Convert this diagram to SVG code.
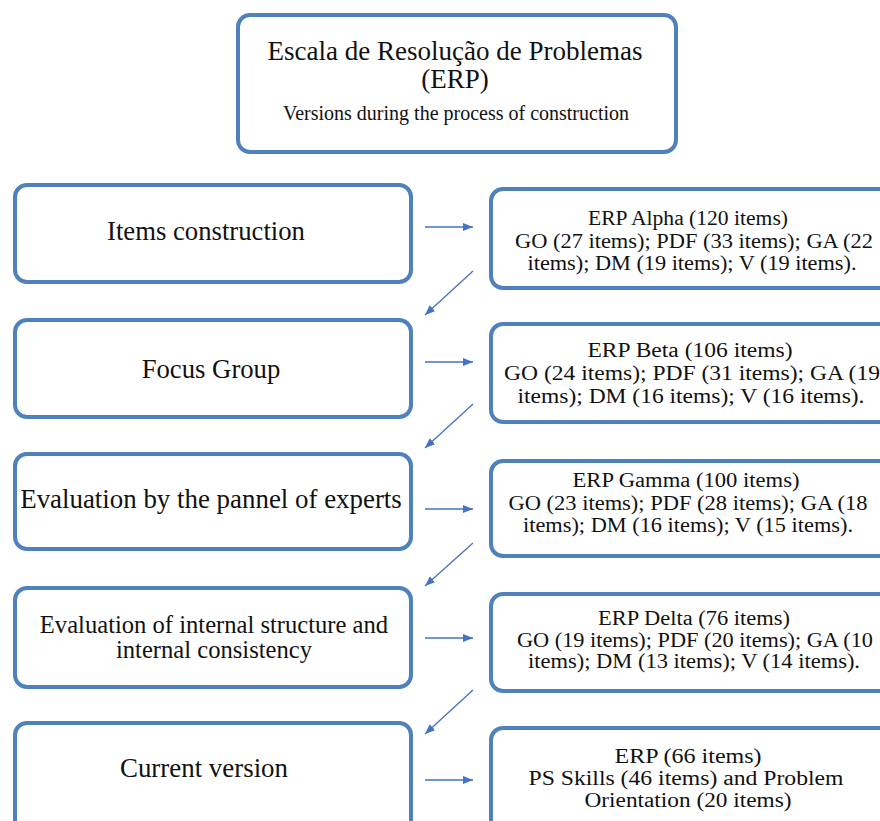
<svg xmlns="http://www.w3.org/2000/svg" width="880" height="821" viewBox="0 0 880 821">
<defs>
<marker id="ah" viewBox="0 0 10 8" refX="10" refY="4" markerWidth="10" markerHeight="8" markerUnits="userSpaceOnUse" orient="auto">
<path d="M0,0 L10,4 L0,8 z" fill="#4472c4"/>
</marker>
</defs>
<style>
.box{fill:#fff;stroke:#4f81bd;stroke-width:4}
.t{font-family:"Liberation Serif","Times New Roman",serif;fill:#111;text-anchor:middle}
.r{font-size:20px}
.c{stroke:#4472c4;stroke-width:1.3;fill:none;marker-end:url(#ah)}
</style>
<rect width="880" height="821" fill="#fff"/>
<g id="title">
<rect class="box" x="238" y="15" width="438" height="137" rx="12"/>
<text class="t" x="455" y="60" font-size="27">Escala de Resolução de Problemas</text>
<text class="t" x="455" y="88" font-size="27">(ERP)</text>
<text class="t" x="456" y="120" font-size="20">Versions during the process of construction</text>
</g>
<g id="items">
<rect class="box" x="15" y="185" width="396" height="97" rx="12"/>
<text class="t" x="206" y="240" font-size="26.7">Items construction</text>
</g>
<g id="focus">
<rect class="box" x="15" y="320" width="396" height="97" rx="12"/>
<text class="t" x="211" y="378" font-size="26.7">Focus Group</text>
</g>
<g id="panel">
<rect class="box" x="15" y="454" width="396" height="95" rx="12"/>
<text class="t" x="211" y="508" font-size="26.9">Evaluation by the pannel of experts</text>
</g>
<g id="internal">
<rect class="box" x="15" y="588" width="396" height="99" rx="12"/>
<text class="t" x="214" y="633" font-size="24.6">Evaluation of internal structure and</text>
<text class="t" x="214" y="658" font-size="24.6">internal consistency</text>
</g>
<g id="current">
<rect class="box" x="15" y="723" width="396" height="110" rx="12"/>
<text class="t" x="204" y="777" font-size="26.9">Current version</text>
</g>
<g id="alpha">
<rect class="box" x="491" y="189" width="400" height="99" rx="12"/>
<text class="t r" x="688" y="225" textLength="200" lengthAdjust="spacingAndGlyphs">ERP Alpha (120 items)</text>
<text class="t r" x="694" y="248" textLength="358" lengthAdjust="spacingAndGlyphs">GO (27 items); PDF (33 items); GA (22</text>
<text class="t r" x="692" y="270" textLength="329" lengthAdjust="spacingAndGlyphs">items); DM (19 items); V (19 items).</text>
</g>
<g id="beta">
<rect class="box" x="491" y="324" width="400" height="98" rx="12"/>
<text class="t r" x="690" y="357" textLength="205" lengthAdjust="spacingAndGlyphs">ERP Beta (106 items)</text>
<text class="t r" x="692" y="380" textLength="376" lengthAdjust="spacingAndGlyphs">GO (24 items); PDF (31 items); GA (19</text>
<text class="t r" x="691" y="403" textLength="347" lengthAdjust="spacingAndGlyphs">items); DM (16 items); V (16 items).</text>
</g>
<g id="gamma">
<rect class="box" x="491" y="461" width="400" height="95" rx="12"/>
<text class="t r" x="686" y="487" textLength="227" lengthAdjust="spacingAndGlyphs">ERP Gamma (100 items)</text>
<text class="t r" x="688" y="510" textLength="359" lengthAdjust="spacingAndGlyphs">GO (23 items); PDF (28 items); GA (18</text>
<text class="t r" x="688" y="532" textLength="330" lengthAdjust="spacingAndGlyphs">items); DM (16 items); V (15 items).</text>
</g>
<g id="delta">
<rect class="box" x="491" y="594" width="400" height="97" rx="12"/>
<text class="t r" x="694" y="625" textLength="192" lengthAdjust="spacingAndGlyphs">ERP Delta (76 items)</text>
<text class="t r" x="695" y="647" textLength="356" lengthAdjust="spacingAndGlyphs">GO (19 items); PDF (20 items); GA (10</text>
<text class="t r" x="694" y="668" textLength="332" lengthAdjust="spacingAndGlyphs">items); DM (13 items); V (14 items).</text>
</g>
<g id="final">
<rect class="box" x="491" y="728" width="400" height="110" rx="12"/>
<text class="t r" x="688" y="763" textLength="147" lengthAdjust="spacingAndGlyphs">ERP (66 items)</text>
<text class="t r" x="686" y="785" textLength="315" lengthAdjust="spacingAndGlyphs">PS Skills (46 items) and Problem</text>
<text class="t r" x="688" y="807" textLength="207" lengthAdjust="spacingAndGlyphs">Orientation (20 items)</text>
</g>
<g id="connectors">
<line class="c" x1="425" y1="227" x2="473" y2="227"/>
<line class="c" x1="425" y1="362" x2="473" y2="362"/>
<line class="c" x1="425" y1="509" x2="473" y2="509"/>
<line class="c" x1="425" y1="638" x2="473" y2="638"/>
<line class="c" x1="425" y1="780" x2="473" y2="780"/>
<line class="c" x1="473" y1="271" x2="425" y2="315"/>
<line class="c" x1="473" y1="404" x2="425" y2="448"/>
<line class="c" x1="473" y1="543" x2="425" y2="586"/>
<line class="c" x1="473" y1="690" x2="425" y2="734"/>
</g>
</svg>
